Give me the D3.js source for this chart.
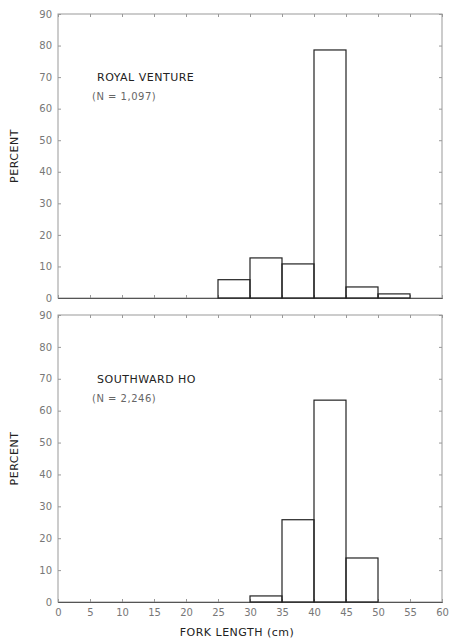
<!DOCTYPE html>
<html>
<head>
<meta charset="utf-8">
<script src="https://cdn.jsdelivr.net/npm/d3@7"></script>
<style>
  body { margin: 0; background: #fff; }
  svg { display: block; }
  .tick-label { font-family: 'DejaVu Sans', sans-serif; font-size: 10px; fill: #777; }
  .label { font-family: 'DejaVu Sans', sans-serif; font-size: 11px; fill: #222; letter-spacing: 0.5px; }
</style>
</head>
<body>
<svg id="canvas"></svg>
<script>
// Canvas size
var canvasWidth = 449;
var canvasHeight = 641;

// Bin starts (cm), each bin is 5 cm wide
var binStarts = [0, 5, 10, 15, 20, 25, 30, 35, 40, 45, 50, 55];

// Percent per bin
var royalVenture = [0, 0, 0, 0, 0, 5.8, 12.7, 10.8, 78.6, 3.5, 1.3, 0];
var southwardHo = [0, 0, 0, 0, 0, 0, 1.9, 25.8, 63.3, 13.8, 0, 0];

// Tick values
var xTicks = [0, 5, 10, 15, 20, 25, 30, 35, 40, 45, 50, 55, 60];
var yTicks = [0, 10, 20, 30, 40, 50, 60, 70, 80, 90];

// Panel titles
var panels = [
  { name: 'ROYAL VENTURE', n: '(N = 1,097)', values: royalVenture, top: 14, bottom: 298 },
  { name: 'SOUTHWARD HO', n: '(N = 2,246)', values: southwardHo, top: 315, bottom: 602 }
];

var plotLeft = 58;
var plotRight = 442;

var svg = d3.select('#canvas')
  .attr('width', canvasWidth)
  .attr('height', canvasHeight);

var xScale = d3.scaleLinear()
  .domain([0, 60])
  .range([plotLeft, plotRight]);

panels.forEach(function(p, i) {
  var yScale = d3.scaleLinear()
    .domain([0, 90])
    .range([p.bottom, p.top]);

  var g = svg.append('g');

  // Frame
  g.append('rect')
    .attr('x', plotLeft)
    .attr('y', p.top)
    .attr('width', plotRight - plotLeft)
    .attr('height', p.bottom - p.top)
    .attr('fill', 'none')
    .attr('stroke', '#999')
    .attr('stroke-width', 1);

  // Left axis
  var yAxis = d3.axisLeft(yScale)
    .tickValues(yTicks)
    .tickSize(-3)
    .tickPadding(6);
  var ya = g.append('g')
    .attr('transform', 'translate(' + plotLeft + ',0)')
    .call(yAxis);
  ya.select('.domain').remove();
  ya.selectAll('line').attr('stroke', '#999');
  ya.selectAll('text').attr('class', 'tick-label').attr('fill', null);

  // Right side ticks
  var yAxisR = d3.axisRight(yScale)
    .tickValues(yTicks)
    .tickSize(-3)
    .tickFormat('');
  var yr = g.append('g')
    .attr('transform', 'translate(' + plotRight + ',0)')
    .call(yAxisR);
  yr.select('.domain').remove();
  yr.selectAll('line').attr('stroke', '#999');

  // Top ticks
  var xAxisT = d3.axisTop(xScale)
    .tickValues(xTicks)
    .tickSize(-3)
    .tickFormat('');
  var xt = g.append('g')
    .attr('transform', 'translate(0,' + p.top + ')')
    .call(xAxisT);
  xt.select('.domain').remove();
  xt.selectAll('line').attr('stroke', '#999');

  // Bottom axis
  var xAxis = d3.axisBottom(xScale)
    .tickValues(xTicks)
    .tickSize(-3)
    .tickPadding(7)
    .tickFormat(i === 1 ? d3.format('d') : '');
  var xa = g.append('g')
    .attr('transform', 'translate(0,' + p.bottom + ')')
    .call(xAxis);
  xa.select('.domain').attr('stroke', '#555');
  xa.selectAll('line').attr('stroke', '#999');
  xa.selectAll('text').attr('class', 'tick-label').attr('fill', null);

  // Bars
  g.selectAll('.bar')
    .data(p.values.map(function(v, j) { return { x0: binStarts[j], v: v }; })
      .filter(function(d) { return d.v > 0; }))
    .enter()
    .append('rect')
    .attr('class', 'bar')
    .attr('x', function(d) { return xScale(d.x0); })
    .attr('y', function(d) { return yScale(d.v); })
    .attr('width', function(d) { return xScale(d.x0 + 5) - xScale(d.x0); })
    .attr('height', function(d) { return yScale(0) - yScale(d.v); })
    .attr('fill', 'none')
    .attr('stroke', '#222')
    .attr('stroke-width', 1.2);

  // Panel labels
  g.append('text')
    .attr('class', 'label')
    .attr('x', 97)
    .attr('y', yScale(70) + 4)
    .text(p.name);

  g.append('text')
    .attr('class', 'label')
    .attr('x', 92)
    .attr('y', yScale(64) + 4)
    .style('fill', '#666')
    .style('font-size', '10px')
    .text(p.n);

  // Y title
  g.append('text')
    .attr('class', 'label')
    .attr('transform', 'translate(18,' + yScale(45) + ') rotate(-90)')
    .attr('text-anchor', 'middle')
    .text('PERCENT');
});

// X title
svg.append('text')
  .attr('class', 'label')
  .attr('x', 237)
  .attr('y', 636)
  .attr('text-anchor', 'middle')
  .text('FORK LENGTH (cm)');
</script>
</body>
</html>
